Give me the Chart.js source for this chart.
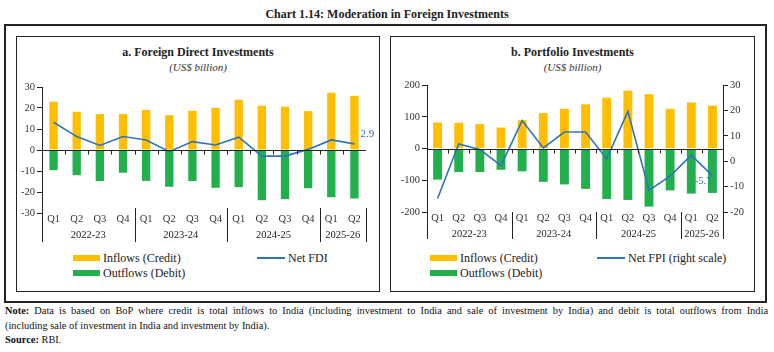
<!DOCTYPE html>
<html>
<head>
<meta charset="utf-8">
<script src="https://cdn.jsdelivr.net/npm/chart.js@4/dist/chart.umd.min.js"></script>
<style>
  body { margin: 0; width: 774px; height: 352px; background: #fff; position: relative; overflow: hidden;
         font-family: "Liberation Serif", serif; color: #222; }
  .abs { position: absolute; }
  .box { position: absolute; box-sizing: border-box; }
  .title { left: 0; width: 774px; top: 7px; text-align: center; font-weight: bold; font-size: 12px; }
  .ptitle { text-align: center; font-weight: bold; font-size: 12px; }
  .psub { text-align: center; font-style: italic; font-size: 11px; color: #333; }
  .sw { position: absolute; height: 6px; width: 27px; }
  .ln { position: absolute; height: 2px; width: 28px; background: #2f73ba; }
  .lt { position: absolute; font-size: 12px; line-height: 12px; white-space: nowrap; }
  .note { left: 5px; width: 763px; top: 304px; font-size: 10.4px; line-height: 14.5px; color: #111; }
  .note .j { display: block; text-align: justify; text-align-last: justify; }
</style>
</head>
<body>

<div class="abs title">Chart 1.14: Moderation in Foreign Investments</div>
<div class="box" style="left:4px;top:24px;width:763px;height:279px;border:2.5px solid #222;"></div>

<!-- left panel -->
<div class="box" style="left:16px;top:36px;width:364px;height:256px;border:1.3px solid #222;"></div>
<div class="abs ptitle" style="left:16px;width:364px;top:45px;">a. Foreign Direct Investments</div>
<div class="abs psub" style="left:16px;width:364px;top:61px;">(US$ billion)</div>
<div class="abs" style="left:17px;top:78px;width:362px;height:170px;"><canvas id="fdi-chart"></canvas></div>
<div class="sw" style="left:73px;top:255px;background:#ffbf00;"></div>
<div class="lt" style="left:103px;top:252px;">Inflows (Credit)</div>
<div class="sw" style="left:73px;top:270px;background:#21b04b;"></div>
<div class="lt" style="left:103px;top:267px;">Outflows (Debit)</div>
<div class="ln" style="left:257px;top:257px;"></div>
<div class="lt" style="left:288px;top:252px;">Net FDI</div>

<!-- right panel -->
<div class="box" style="left:390px;top:36px;width:365px;height:256px;border:1.3px solid #222;"></div>
<div class="abs ptitle" style="left:390px;width:365px;top:45px;">b. Portfolio Investments</div>
<div class="abs psub" style="left:390px;width:365px;top:61px;">(US$ billion)</div>
<div class="abs" style="left:391px;top:76px;width:364px;height:168px;"><canvas id="fpi-chart"></canvas></div>
<div class="sw" style="left:430px;top:255px;background:#ffbf00;"></div>
<div class="lt" style="left:460px;top:252px;">Inflows (Credit)</div>
<div class="sw" style="left:430px;top:270px;background:#21b04b;"></div>
<div class="lt" style="left:460px;top:267px;">Outflows (Debit)</div>
<div class="ln" style="left:597px;top:257px;"></div>
<div class="lt" style="left:628px;top:252px;">Net FPI (right scale)</div>

<div class="abs note"><span class="j"><b>Note:</b> Data is based on BoP where credit is total inflows to India (including investment to India and sale of investment by India) and debit is total outflows from India</span>(including sale of investment in India and investment by India).<br><b>Source:</b> RBI.</div>

<script>
  /**
   * Data (US$ billion).
   */
  var quarters = ["Q1", "Q2", "Q3", "Q4", "Q1", "Q2", "Q3", "Q4", "Q1", "Q2", "Q3", "Q4", "Q1", "Q2"];
  var years = ["2022-23", "2023-24", "2024-25", "2025-26"];

  var fdiInflows  = [23.0, 18.2, 17.1, 17.1, 19.1, 16.6, 18.7, 20.1, 23.9, 21.1, 20.6, 18.5, 27.3, 25.8];
  var fdiOutflows = [-9.6, -12.0, -14.8, -10.8, -14.7, -17.5, -14.8, -18.0, -17.7, -23.9, -23.4, -18.2, -22.5, -23.1];
  var netFdi      = [13.2, 6.4, 2.2, 6.4, 4.8, -0.8, 4.0, 2.4, 6.1, -2.9, -2.9, 0.3, 4.8, 2.9];

  var fpiInflows  = [82, 81, 77, 66, 89, 112, 125, 139, 160, 182, 171, 125, 145, 135];
  var fpiOutflows = [-98, -74, -74, -67, -72, -105, -113, -127, -159, -162, -183, -132, -142, -140];
  var netFpi      = [-14.7, 6.8, 4.6, -1.7, 16.0, 5.2, 11.5, 11.5, 0.9, 19.6, -11.4, -5.9, 2.4, -5.7];

  var fdiTicks = { min: -30, max: 30, step: 10 };
  var fpiTicks = { min: -200, max: 200, step: 100 };
  var fpiRightTicks = { min: -20, max: 30, step: 10 };

  var orange = "#ffbf00", green = "#21b04b", blue = "#2f73ba", ink = "#222";
  var tickFont = { family: "'Liberation Serif', serif", size: 10.5 };

  /**
   * Plugin - zero line, year groups under the quarters, end label.
   */
  var groupsPlugin = {
    id: "groups",
    afterDraw: function (chart, args, opts) {
      var ctx = chart.ctx, x = chart.scales.x, y = chart.scales.y, area = chart.chartArea;
      var zero = Math.round(y.getPixelForValue(0)) + 0.5;
      var half = (x.getPixelForValue(1) - x.getPixelForValue(0)) / 2;
      ctx.save();
      ctx.strokeStyle = ink;
      ctx.lineWidth = 1;
      ctx.beginPath();
      ctx.moveTo(area.left, zero);
      ctx.lineTo(area.right, zero);
      for (var i = 1; i < quarters.length; i++) {
        var tx = Math.round(x.getPixelForValue(i) - half) + 0.5;
        ctx.moveTo(tx, zero);
        ctx.lineTo(tx, zero + 4);
      }
      ctx.stroke();

      // year separators and labels
      var starts = [];
      quarters.forEach(function (q, i) { if (q === "Q1") starts.push(i); });
      starts.push(quarters.length);
      ctx.fillStyle = ink;
      ctx.font = "10.5px 'Liberation Serif', serif";
      ctx.textAlign = "center";
      ctx.textBaseline = "middle";
      ctx.beginPath();
      for (var g = 0; g < starts.length; g++) {
        var sx = Math.round(x.getPixelForValue(starts[g]) - half) + 0.5;
        if (g === 0) sx = Math.round(area.left) + 0.5;
        if (g === starts.length - 1) sx = Math.round(area.right) + 0.5;
        ctx.moveTo(sx, area.bottom + opts.sepTop);
        ctx.lineTo(sx, area.bottom + opts.sepBottom);
        if (g < years.length) {
          var mid = (x.getPixelForValue(starts[g]) + x.getPixelForValue(starts[g + 1] - 1)) / 2;
          ctx.fillText(years[g], mid, area.bottom + opts.yearY);
        }
      }
      ctx.stroke();

      // value label on the last point of the line
      var meta = chart.getDatasetMeta(2);
      var n = meta.data.length - 1;
      var pt = meta.data[n];
      ctx.fillStyle = blue;
      ctx.font = opts.labelSize + "px 'Liberation Serif', serif";
      ctx.textAlign = opts.labelAlign;
      ctx.fillText(chart.data.datasets[2].data[n].toFixed(1), pt.x + opts.labelDx, pt.y + opts.labelDy);
      ctx.restore();
    }
  };

  function yAxis(t, width, pos) {
    return {
      type: "linear",
      position: pos,
      min: t.min,
      max: t.max,
      afterFit: function (scale) { scale.width = width; },
      ticks: { stepSize: t.step, color: "#333", font: tickFont, padding: 2 },
      grid: { drawOnChartArea: false, tickLength: 5, color: ink },
      border: { display: true, color: ink }
    };
  }

  function xAxis(height) {
    return {
      afterFit: function (scale) { scale.height = height; },
      ticks: { color: "#333", font: tickFont, padding: 0, maxRotation: 0, minRotation: 0, autoSkip: false },
      grid: { display: false, drawTicks: false },
      border: { display: false }
    };
  }

  function bars(label, values, color, pct) {
    return {
      type: "bar", label: label, data: values, backgroundColor: color,
      grouped: false, barPercentage: pct, categoryPercentage: 1, order: 2
    };
  }

  var fdiChart = new Chart(document.getElementById("fdi-chart"), {
    type: "bar",
    data: {
      labels: quarters,
      datasets: [
        bars("Inflows (Credit)", fdiInflows, orange, 0.36),
        bars("Outflows (Debit)", fdiOutflows, green, 0.36),
        { type: "line", label: "Net FDI", data: netFdi, borderColor: blue, borderWidth: 1.6,
          pointRadius: 0, tension: 0, order: 1 }
      ]
    },
    options: {
      responsive: true, maintainAspectRatio: false, animation: false,
      layout: { padding: { top: 9, right: 13, left: 0, bottom: 0 } },
      plugins: {
        legend: { display: false }, tooltip: { enabled: false },
        groups: { sepTop: -5, sepBottom: 29, yearY: 22, labelAlign: "left", labelDx: 6, labelDy: -10, labelSize: 11 }
      },
      scales: { x: xAxis(35), y: yAxis(fdiTicks, 25, "left") }
    },
    plugins: [groupsPlugin]
  });

  var fpiChart = new Chart(document.getElementById("fpi-chart"), {
    type: "bar",
    data: {
      labels: quarters,
      datasets: [
        bars("Inflows (Credit)", fpiInflows, orange, 0.42),
        bars("Outflows (Debit)", fpiOutflows, green, 0.42),
        { type: "line", label: "Net FPI (right scale)", data: netFpi, borderColor: blue, borderWidth: 1.6,
          pointRadius: 0, tension: 0, order: 1, yAxisID: "y1" }
      ]
    },
    options: {
      responsive: true, maintainAspectRatio: false, animation: false,
      layout: { padding: { top: 9, right: 0, left: 0, bottom: 0 } },
      plugins: {
        legend: { display: false }, tooltip: { enabled: false },
        groups: { sepTop: 0, sepBottom: 27, yearY: 22, labelAlign: "right", labelDx: -1, labelDy: 6, labelSize: 10.5 }
      },
      scales: {
        x: xAxis(32),
        y: yAxis(fpiTicks, 36, "left"),
        y1: yAxis(fpiRightTicks, 32, "right")
      }
    },
    plugins: [groupsPlugin]
  });
</script>
</body>
</html>
